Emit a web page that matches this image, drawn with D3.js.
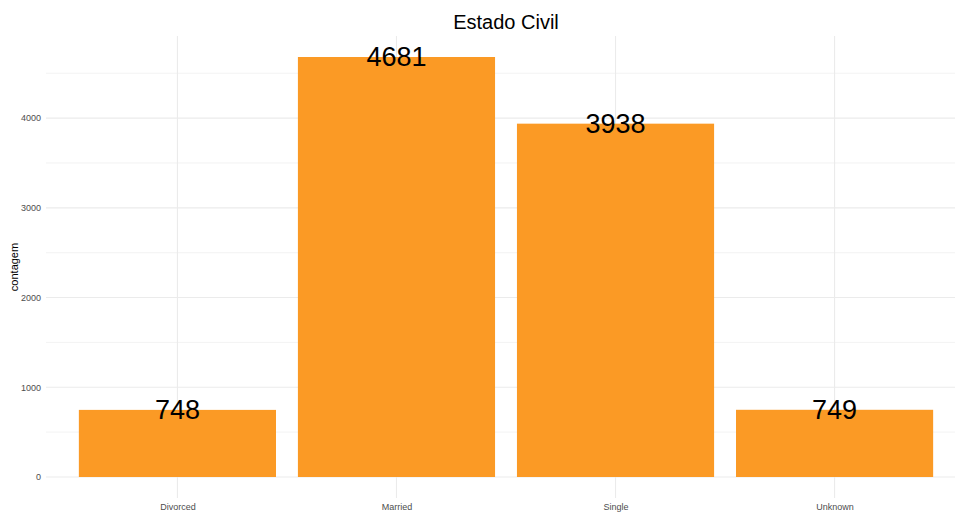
<!DOCTYPE html>
<html>
<head>
<meta charset="utf-8">
<script src="https://cdn.jsdelivr.net/npm/d3@7"></script>
<style>
  body { margin:0; background:#fff; }
  text { font-family: "Liberation Sans", Arial, sans-serif; }
</style>
</head>
<body>
<div id="chart"></div>
<script>
const categories = ["Divorced","Married","Single","Unknown"]
const counts = [748, 4681, 3938, 749]
const yTicks = [0, 1000, 2000, 3000, 4000]
const yMinor = [500, 1500, 2500, 3500, 4500]

const W = 955, H = 514
const margin = {top:36, right:-11, bottom:16, left:46},
  width = W - margin.left - margin.right,
  height = H - margin.top - margin.bottom

const svg = d3.select("#chart")
  .append("svg")
    .attr("width", W)
    .attr("height", H)

const g = svg.append("g")
  .attr("transform","translate(" + margin.left + "," + margin.top + ")")

// ggplot style expansion: discrete +0.6, continuous 5%
const ymax = d3.max(counts)
const y = d3.scaleLinear()
  .domain([-ymax*0.05, ymax*1.05])
  .range([height, 0])
const step = width / (categories.length - 1 + 1.2)
const x = d3.scalePoint()
  .domain(categories)
  .range([0.6*step, width - 0.6*step])
const bw = step * 0.9

// grid
g.selectAll(null)
  .data(yMinor)
  .enter()
  .append("line")
  .attr("x1",0).attr("x2",width)
  .attr("y1",d=>y(d)).attr("y2",d=>y(d))
  .style("stroke","#ebebeb").style("stroke-width",0.6)
g.selectAll(null)
  .data(yTicks)
  .enter()
  .append("line")
  .attr("x1",0).attr("x2",width)
  .attr("y1",d=>y(d)).attr("y2",d=>y(d))
  .style("stroke","#ebebeb").style("stroke-width",1.1)
g.selectAll(null)
  .data(categories)
  .enter()
  .append("line")
  .attr("x1",d=>x(d)).attr("x2",d=>x(d))
  .attr("y1",0).attr("y2",height)
  .style("stroke","#ebebeb").style("stroke-width",1.1)

// bars
g.selectAll(null)
  .data(categories)
  .enter()
  .append("rect")
  .attr("x",d=>x(d)-bw/2)
  .attr("width",bw)
  .attr("y",(d,i)=>y(counts[i]))
  .attr("height",(d,i)=>y(0)-y(counts[i]))
  .style("fill","#fb9a25")

// value labels
g.selectAll(null)
  .data(categories)
  .enter()
  .append("text")
  .attr("x",d=>x(d))
  .attr("y",(d,i)=>y(counts[i]))
  .attr("dy","0.35em")
  .attr("text-anchor","middle")
  .style("font-size","27px")
  .style("fill","#000")
  .text((d,i)=>counts[i])

// axes
const yAxis = g.append("g")
  .call(d3.axisLeft(y).tickValues(yTicks).tickFormat(d3.format("d")).tickSize(0).tickPadding(5))
yAxis.select(".domain").remove()
yAxis.selectAll("text").style("font-size","9px").style("fill","#4d4d4d")

const xAxis = g.append("g")
  .attr("transform","translate(0," + height + ")")
  .call(d3.axisBottom(x).tickSize(0).tickPadding(6))
xAxis.select(".domain").remove()
xAxis.selectAll("text").style("font-size","9px").style("fill","#4d4d4d")

svg.append("text")
  .attr("transform","translate(18," + (margin.top + height/2) + ") rotate(-90)")
  .attr("text-anchor","middle")
  .style("font-size","11px")
  .style("fill","#000")
  .text("contagem")

svg.append("text")
  .attr("x", margin.left + width/2)
  .attr("y", 29)
  .attr("text-anchor","middle")
  .style("font-size","20px")
  .style("fill","#000")
  .text("Estado Civil")
</script>
</body>
</html>
